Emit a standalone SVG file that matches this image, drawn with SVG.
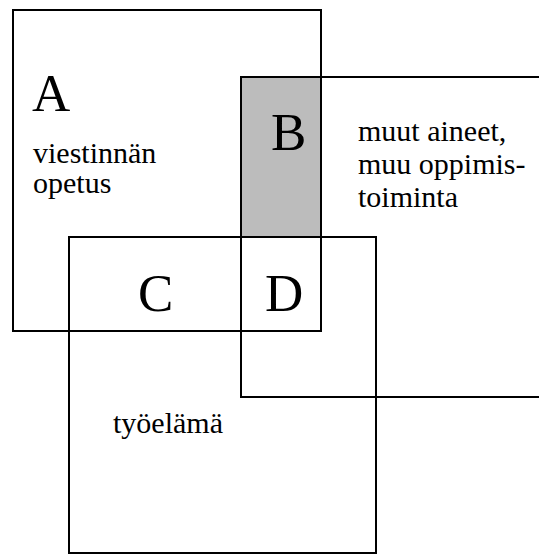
<svg xmlns="http://www.w3.org/2000/svg" width="539" height="557" viewBox="0 0 539 557">
<style>
.box{fill:none;stroke:#000;stroke-width:2}
</style>
<rect x="0" y="0" width="539" height="557" fill="#fff"/>
<g id="shade"><rect x="241" y="77" width="80" height="160" fill="#bcbcbc"/></g>
<g font-family="Liberation Serif, serif" fill="#000">
<g id="A">
<rect class="box" x="13" y="10" width="308" height="321"/>
<text font-size="53" x="32" y="111">A</text>
<text font-size="30" x="33" y="163">viestinnän</text>
<text font-size="30" x="33" y="193">opetus</text>
</g>
<g id="Bbox">
<path class="box" d="M540 77 H241 V397 H540"/>
<text font-size="30" x="358" y="141">muut aineet,</text>
<text font-size="30" x="358" y="174">muu oppimis-</text>
<text font-size="30" x="358" y="207">toiminta</text>
</g>
<g id="Cbox">
<rect class="box" x="69" y="237" width="307" height="316"/>
<text font-size="30" x="113" y="433">työelämä</text>
</g>
<g id="B"><text font-size="53" x="271" y="150">B</text></g>
<g id="C"><text font-size="53" x="138" y="311">C</text></g>
<g id="D"><text font-size="53" x="265" y="311">D</text></g>
</g>
</svg>
